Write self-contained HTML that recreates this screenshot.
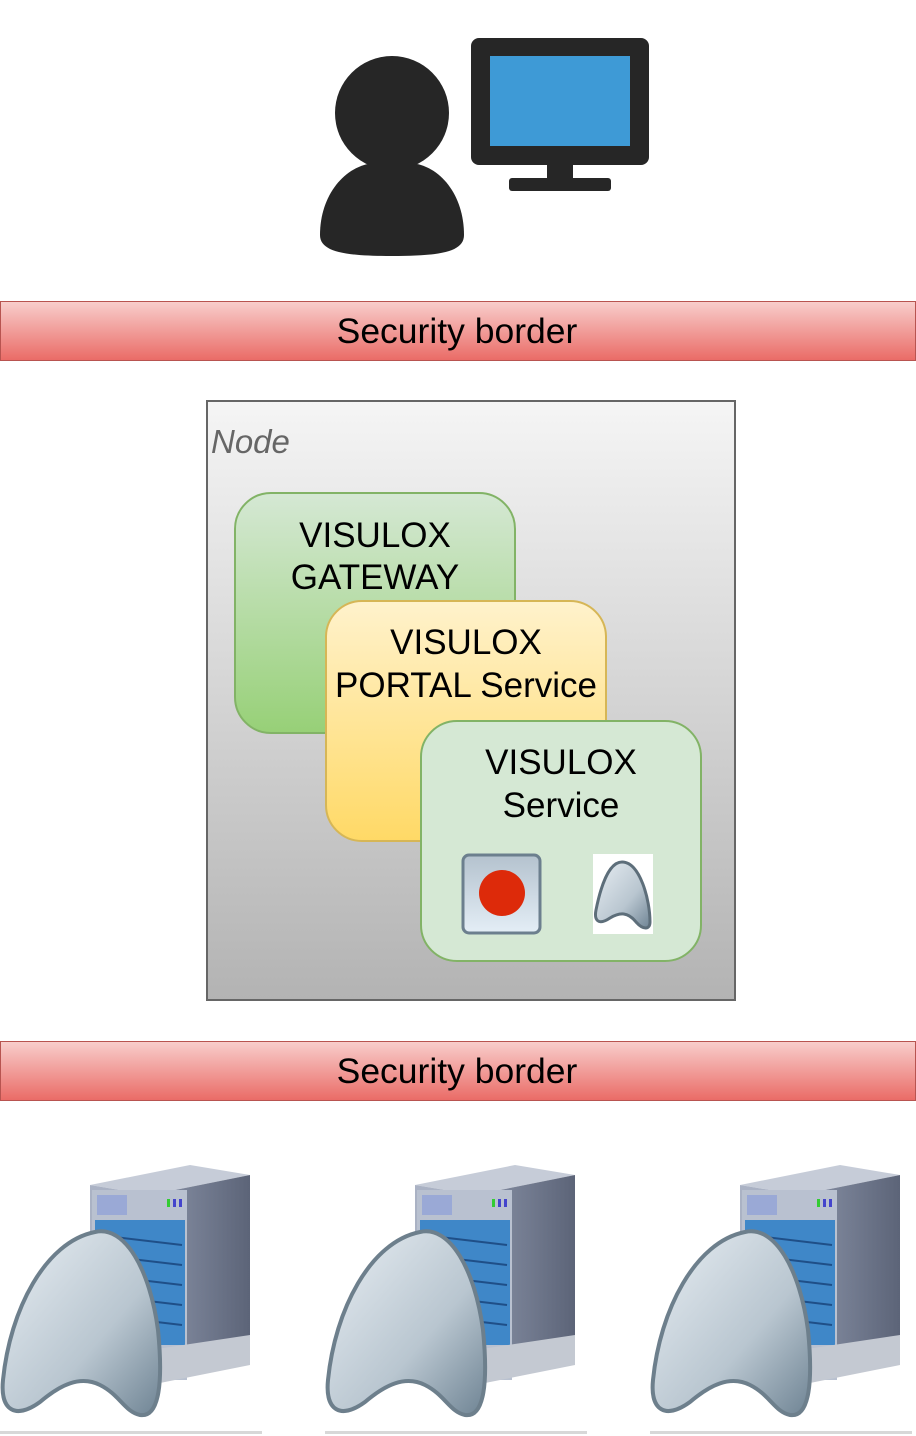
<!DOCTYPE html>
<html><head><style>body{margin:0;background:#fff}svg{display:block}</style></head><body>
<svg width="916" height="1436" viewBox="0 0 916 1436" xmlns="http://www.w3.org/2000/svg" font-family="Liberation Sans, sans-serif">
<defs>
<linearGradient id="red" x1="0" y1="0" x2="0" y2="1"><stop offset="0" stop-color="#f8cecc"/><stop offset="1" stop-color="#ea6b66"/></linearGradient>
<linearGradient id="node" x1="0" y1="0" x2="0" y2="1"><stop offset="0" stop-color="#f5f5f5"/><stop offset="1" stop-color="#b3b3b3"/></linearGradient>
<linearGradient id="grn" x1="0" y1="0" x2="0" y2="1"><stop offset="0" stop-color="#d5e8d4"/><stop offset="1" stop-color="#97d077"/></linearGradient>
<linearGradient id="yel" x1="0" y1="0" x2="0" y2="1"><stop offset="0" stop-color="#fff2cc"/><stop offset="1" stop-color="#ffd966"/></linearGradient>
<linearGradient id="arch" x1="0" y1="0" x2="1" y2="1"><stop offset="0" stop-color="#e8eef3"/><stop offset="0.6" stop-color="#b9c6d0"/><stop offset="1" stop-color="#6f8494"/></linearGradient>
<linearGradient id="side" x1="0" y1="0" x2="1" y2="0"><stop offset="0" stop-color="#8a93a8"/><stop offset="1" stop-color="#5c6478"/></linearGradient>
<linearGradient id="btn" x1="0" y1="0" x2="0" y2="1"><stop offset="0" stop-color="#b4c2ce"/><stop offset="1" stop-color="#e4eef6"/></linearGradient>
<g id="srv">
<polygon points="90,1185 190,1165 250,1175 150,1195" fill="#c6ccd8"/>
<polygon points="90,1185 150,1195 150,1385 90,1375" fill="#aab2c4"/>
<polygon points="150,1195 250,1175 250,1345 150,1385" fill="url(#side)"/>
<rect x="92" y="1190" width="95" height="190" fill="#b9c1d0"/>
<rect x="97" y="1195" width="30" height="20" fill="#9aa9d6"/>
<rect x="95" y="1220" width="90" height="125" fill="#3f87c8"/>
<g stroke="#1f4f88" stroke-width="2"><line x1="98" y1="1235" x2="182" y2="1245"/><line x1="98" y1="1255" x2="182" y2="1265"/><line x1="98" y1="1275" x2="182" y2="1285"/><line x1="98" y1="1295" x2="182" y2="1305"/><line x1="98" y1="1315" x2="182" y2="1325"/></g>
<rect x="167" y="1199" width="3" height="8" fill="#3c3"/><rect x="173" y="1199" width="3" height="8" fill="#44c"/><rect x="179" y="1199" width="3" height="8" fill="#44c"/>
<polygon points="150,1350 250,1335 250,1365 150,1385" fill="#c4c9d2"/>
<path d="M95,1232 C125,1225 150,1270 158,1330 C163,1380 160,1418 140,1415 C125,1412 120,1395 100,1385 C80,1375 60,1385 40,1402 C15,1420 0,1410 3,1380 C10,1310 45,1242 95,1232 Z" fill="url(#arch)" stroke="#6d7f8c" stroke-width="4"/>
<rect x="0" y="1431" width="262" height="3" fill="#d8d8d8"/>
</g>
</defs>
<circle cx="392" cy="113" r="57" fill="#262626"/>
<path d="M320,235 C320,195 345,165 375,163 L410,163 C440,165 464,195 464,235 C464,252 440,256 392,256 C345,256 320,252 320,235 Z" fill="#262626"/>
<rect x="471" y="38" width="178" height="127" rx="8" fill="#262626"/>
<rect x="490" y="56" width="140" height="90" fill="#3e9ad6"/>
<rect x="547" y="165" width="26" height="14" fill="#262626"/>
<rect x="509" y="178" width="102" height="13" rx="3" fill="#262626"/>
<rect x="0.5" y="301.5" width="915" height="59" fill="url(#red)" stroke="#b85450"/>
<text x="457" y="343" font-size="35.5" text-anchor="middle" fill="#000">Security border</text>
<rect x="0.5" y="1041.5" width="915" height="59" fill="url(#red)" stroke="#b85450"/>
<text x="457" y="1083" font-size="35.5" text-anchor="middle" fill="#000">Security border</text>
<rect x="207" y="401" width="528" height="599" fill="url(#node)" stroke="#666" stroke-width="2"/>
<text x="211" y="453" font-size="33" font-style="italic" fill="#666">Node</text>
<rect x="235" y="493" width="280" height="240" rx="36" fill="url(#grn)" stroke="#82b366" stroke-width="2"/>
<text x="375" y="547" font-size="35" text-anchor="middle">VISULOX</text>
<text x="375" y="589" font-size="35" text-anchor="middle">GATEWAY</text>
<rect x="326" y="601" width="280" height="240" rx="36" fill="url(#yel)" stroke="#d6b656" stroke-width="2"/>
<text x="466" y="654" font-size="35" text-anchor="middle">VISULOX</text>
<text x="466" y="697" font-size="35" text-anchor="middle">PORTAL Service</text>
<rect x="421" y="721" width="280" height="240" rx="36" fill="#d5e8d4" stroke="#82b366" stroke-width="2"/>
<text x="561" y="774" font-size="35" text-anchor="middle">VISULOX</text>
<text x="561" y="817" font-size="35" text-anchor="middle">Service</text>
<rect x="463" y="855" width="77" height="78" rx="6" fill="url(#btn)" stroke="#6c7f8e" stroke-width="3"/>
<circle cx="502" cy="893" r="23" fill="#dd2a0a"/>
<rect x="593" y="854" width="60" height="80" fill="#fff"/>
<path d="M622,862 C640,862 650,900 650,922 C650,930 643,930 636,922 C628,912 620,912 610,918 C598,926 594,920 596,910 C600,890 608,862 622,862 Z" fill="url(#arch)" stroke="#5d6e7a" stroke-width="3"/>
<use href="#srv"/>
<use href="#srv" x="325"/>
<use href="#srv" x="650"/>
</svg>
</body></html>
